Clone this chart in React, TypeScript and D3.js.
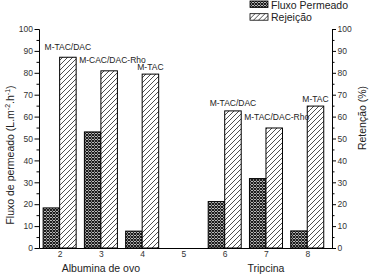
import React, { useEffect, useRef } from 'react';
import * as d3 from 'd3';

const categories = [2, 3, 4, 6, 7, 8];
const fluxValues = [18.3, 53.0, 7.7, 21.2, 31.7, 7.8];
const rejectionValues = [87.1, 80.9, 79.4, 62.6, 54.8, 64.8];
const membraneLabels = ['M-TAC/DAC', 'M-CAC/DAC-Rho', 'M-TAC', 'M-TAC/DAC', 'M-TAC/DAC-Rho', 'M-TAC'];
const xTicks = [2, 3, 4, 5, 6, 7, 8];
const yTicks = [0, 10, 20, 30, 40, 50, 60, 70, 80, 90, 100];
const yMinorTicks = [5, 15, 25, 35, 45, 55, 65, 75, 85, 95];
const groupNames = ['Albumina de ovo', 'Tripcina'];
const groupCenters = [3, 7];
const legendLabels = ['Fluxo Permeado', 'Rejeição'];

const FONT = '"Liberation Sans", Arial, Helvetica, sans-serif';

export default function App() {
  const ref = useRef<SVGSVGElement>(null);

  useEffect(() => {
    const svg = d3.select(ref.current);
    svg.selectAll('*').remove();

    const defs = svg.append('defs');
    const cross = defs
      .append('pattern')
      .attr('id', 'cross')
      .attr('patternUnits', 'userSpaceOnUse')
      .attr('width', 3)
      .attr('height', 3);
    cross.append('rect').attr('width', 3).attr('height', 3).attr('fill', '#fff');
    cross
      .append('path')
      .attr('d', 'M0,0L3,3M3,0L0,3')
      .attr('stroke', '#111')
      .attr('stroke-width', 1.1);

    const diag = defs
      .append('pattern')
      .attr('id', 'diag')
      .attr('patternUnits', 'userSpaceOnUse')
      .attr('width', 5)
      .attr('height', 5);
    diag.append('rect').attr('width', 5).attr('height', 5).attr('fill', '#fff');
    diag
      .append('path')
      .attr('d', 'M-1,1L1,-1M0,5L5,0M4,6L6,4')
      .attr('stroke', '#222')
      .attr('stroke-width', 0.8);

    const x = d3.scaleLinear().domain([1.5, 8.6]).range([39, 332]);
    const yL = d3.scaleLinear().domain([0, 100]).range([248, 29]);
    const yR = d3.scaleLinear().domain([0, 100]).range([248, 29]);
    const bw = 0.4;

    // bars
    const bars = svg.append('g');
    categories.forEach((c, i) => {
      bars
        .append('rect')
        .attr('x', x(c - bw))
        .attr('width', x(c) - x(c - bw))
        .attr('y', yL(fluxValues[i]))
        .attr('height', yL(0) - yL(fluxValues[i]))
        .attr('fill', 'url(#cross)')
        .attr('stroke', '#000')
        .attr('stroke-width', 1);
      bars
        .append('rect')
        .attr('x', x(c))
        .attr('width', x(c + bw) - x(c))
        .attr('y', yR(rejectionValues[i]))
        .attr('height', yR(0) - yR(rejectionValues[i]))
        .attr('fill', 'url(#diag)')
        .attr('stroke', '#000')
        .attr('stroke-width', 1);
    });

    const styleAxis = (g: any) => {
      g.attr('font-family', FONT).attr('font-size', 8.5);
      g.selectAll('text').attr('fill', '#333');
      g.selectAll('line').attr('stroke', '#000');
      g.select('.domain').attr('stroke', '#000');
    };

    // left axis
    const gl = svg.append('g').attr('transform', 'translate(39,0)');
    gl.call(d3.axisLeft(yL).tickValues(yTicks).tickSize(4.5).tickSizeOuter(0).tickPadding(1.5));
    styleAxis(gl);
    const glm = svg.append('g').attr('transform', 'translate(39,0)');
    glm.call(d3.axisLeft(yL).tickValues(yMinorTicks).tickSize(2.5).tickSizeOuter(0).tickFormat(() => ''));
    styleAxis(glm);

    // right axis
    const gr = svg.append('g').attr('transform', 'translate(332,0)');
    gr.call(d3.axisRight(yR).tickValues(yTicks).tickSize(4).tickSizeOuter(0).tickPadding(1.5));
    styleAxis(gr);
    const grm = svg.append('g').attr('transform', 'translate(332,0)');
    grm.call(d3.axisRight(yR).tickValues(yMinorTicks).tickSize(2.5).tickSizeOuter(0).tickFormat(() => ''));
    styleAxis(grm);

    // bottom axis
    const gb = svg.append('g').attr('transform', 'translate(0,248)');
    gb.call(d3.axisBottom(x).tickValues(xTicks).tickSize(0).tickSizeOuter(0).tickPadding(3));
    styleAxis(gb);

    // group titles
    groupNames.forEach((n, i) => {
      svg
        .append('text')
        .attr('x', x(groupCenters[i]))
        .attr('y', 272)
        .attr('text-anchor', 'middle')
        .attr('font-family', FONT)
        .attr('font-size', 10.5)
        .attr('fill', '#222')
        .text(n);
    });

    // membrane labels
    categories.forEach((c, i) => {
      const lbl = membraneLabels[i];
      const top = yR(rejectionValues[i]);
      const t = svg
        .append('text')
        .attr('font-family', FONT)
        .attr('font-size', 8.5)
        .attr('fill', '#222')
        .text(lbl);
      if (lbl.includes('Rho')) {
        t.attr('x', x(c - 1 + bw) + 3).attr('y', top - 8).attr('text-anchor', 'start');
      } else {
        t.attr('x', x(c + bw / 2)).attr('y', top - (i === 0 ? 7 : 4.5)).attr('text-anchor', 'middle');
      }
    });

    // left title
    const lt = svg
      .append('text')
      .attr('transform', 'translate(13.5,155) rotate(-90)')
      .attr('text-anchor', 'middle')
      .attr('font-family', FONT)
      .attr('font-size', 10.5)
      .attr('fill', '#222');
    lt.append('tspan').text('Fluxo de permeado (L.m');
    lt.append('tspan').attr('dy', -4).attr('font-size', 7).text('-2');
    lt.append('tspan').attr('dy', 4).text('.h');
    lt.append('tspan').attr('dy', -4).attr('font-size', 7).text('-1');
    lt.append('tspan').attr('dy', 4).text(')');

    // right title
    svg
      .append('text')
      .attr('transform', 'translate(366,118) rotate(-90)')
      .attr('text-anchor', 'middle')
      .attr('font-family', FONT)
      .attr('font-size', 10.5)
      .attr('fill', '#222')
      .text('Retenção (%)');

    // legend
    const fills = ['url(#cross)', 'url(#diag)'];
    legendLabels.forEach((l, i) => {
      const g = svg.append('g').attr('transform', `translate(250,${1 + i * 12.7})`);
      g.append('rect')
        .attr('width', 18)
        .attr('height', 6.5)
        .attr('fill', fills[i])
        .attr('stroke', '#000')
        .attr('stroke-width', 0.8);
      g.append('text')
        .attr('x', 21)
        .attr('y', 7.5)
        .attr('font-family', FONT)
        .attr('font-size', 10.5)
        .attr('fill', '#222')
        .text(l);
    });
  }, []);

  return (
    <svg
      ref={ref}
      width={369}
      height={275}
      style={{ position: 'absolute', left: 0, top: 0, background: '#fff' }}
    />
  );
}
